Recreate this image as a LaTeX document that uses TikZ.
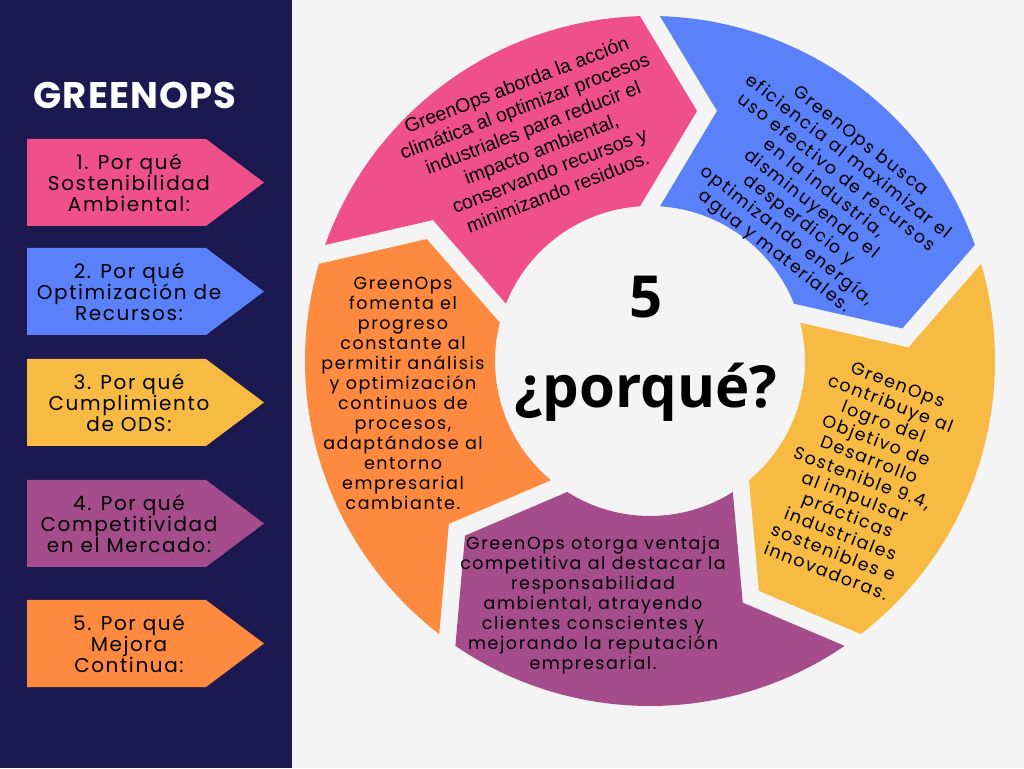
\documentclass[tikz,border=0pt]{standalone}
\usepackage{fontspec}
\setmainfont{Poppins}
\newfontfamily\arialfont{Liberation Sans}
\newfontfamily\headfont{Open Sans}
\newfontfamily\titlefont[LetterSpace=3]{Poppins}
\newfontfamily\tagfont[LetterSpace=8]{Poppins}
\newfontfamily\bodyfont[LetterSpace=9]{Poppins}
\usetikzlibrary{calc}

\definecolor{navy}{RGB}{28,24,80}
\definecolor{paper}{RGB}{244,244,244}
\definecolor{segpink}{RGB}{240,80,138}
\definecolor{segblue}{RGB}{90,128,250}
\definecolor{segyellow}{RGB}{247,187,68}
\definecolor{segpurple}{RGB}{164,76,140}
\definecolor{segorange}{RGB}{253,138,62}

\begin{document}
\begin{tikzpicture}[x=1pt, y=1pt]
    % Styles
    \tikzstyle{tag} = [align=center, text=black, inner sep=0, font=\tagfont\fontsize{20}{21}\selectfont]
    \tikzstyle{body} = [align=center, text=black, inner sep=0, font=\bodyfont\fontsize{17.5}{20}\selectfont]
    \tikzstyle{big} = [anchor=base, text=black, inner sep=0, font=\headfont\bfseries\fontsize{58}{58}\selectfont]

    % Background
    \useasboundingbox (0,0) rectangle (1024,768);
    \fill[paper] (0,0) rectangle (1024,768);
    \fill[navy] (0,0) rectangle (292,768);

    \node (title) [text=white, font=\titlefont\bfseries\fontsize{37}{37}\selectfont] at (135,673) {GREENOPS};

    % Left arrows
    \foreach \ytop/\col/\txt [count=\i] in {139/segpink/{1. Por qué\\Sostenibilidad\\Ambiental:},
                                            248/segblue/{2. Por qué\\Optimización de\\Recursos:},
                                            359/segyellow/{3. Por qué\\Cumplimiento\\de ODS:},
                                            480/segpurple/{4. Por qué\\Competitividad\\en el Mercado:},
                                            600/segorange/{5. Por qué\\Mejora\\Continua:}}
    {
        \pgfmathsetmacro\yt{768-\ytop}
        \fill[\col] (27,\yt) -- (206,\yt) -- (264,\yt-43.5) -- (206,\yt-87) -- (27,\yt-87) -- cycle;
        \node (tag\i) [tag] at (129,\yt-43.5) {\txt};
    }

    % Ring of chevrons
    \coordinate (c) at (650,407);
    \foreach \a/\col in {162/segpink, 90/segblue, 18/segyellow, -54/segpurple, -126/segorange}
    {
        \pgfmathsetmacro\b{\a-72}
        \fill[\col] ($(c)+(\a-1.66:345)$) arc[start angle=\a-1.66, end angle=\b+1.66, radius=345]
            -- ($(c)+(\b:250)+(\b-90:47)$)
            -- ($(c)+(\b+3.7:155)$) arc[start angle=\b+3.7, end angle=\a-3.7, radius=155]
            -- ($(c)+(\a:250)+(\a-90:67)$) -- cycle;
    }

    % Texts in the ring
    \node (pinktxt) [align=center, inner sep=0, rotate=21, font=\arialfont\fontsize{19.5}{23}\selectfont] at (537,630)
        {GreenOps aborda la acción\\climática al optimizar procesos\\industriales para reducir el\\impacto ambiental,\\conservando recursos y\\minimizando residuos.};
    \node (bluetxt) [body, rotate=-38] at (817,571)
        {GreenOps busca\\eficiencia al maximizar el\\uso efectivo de recursos\\en la industria,\\disminuyendo el\\desperdicio y\\optimizando energía,\\agua y materiales.};
    \node (yellowtxt) [body, rotate=-21] at (862,290)
        {GreenOps\\contribuye al\\logro del\\Objetivo de\\Desarrollo\\Sostenible 9.4,\\al impulsar\\prácticas\\industriales\\sostenibles e\\innovadoras.};
    \node (purpletxt) [body] at (593,163)
        {GreenOps otorga ventaja\\competitiva al destacar la\\responsabilidad\\ambiental, atrayendo\\clientes conscientes y\\mejorando la reputación\\empresarial.};
    \node (orangetxt) [body] at (403,375)
        {GreenOps\\fomenta el\\progreso\\constante al\\permitir análisis\\y optimización\\continuos de\\procesos,\\adaptándose al\\entorno\\empresarial\\cambiante.};

    % Centre
    \node (five) [big] at (646,450) {5};
    \node (porque) [big] at (646,360) {¿porqué?};
\end{tikzpicture}
\end{document}
